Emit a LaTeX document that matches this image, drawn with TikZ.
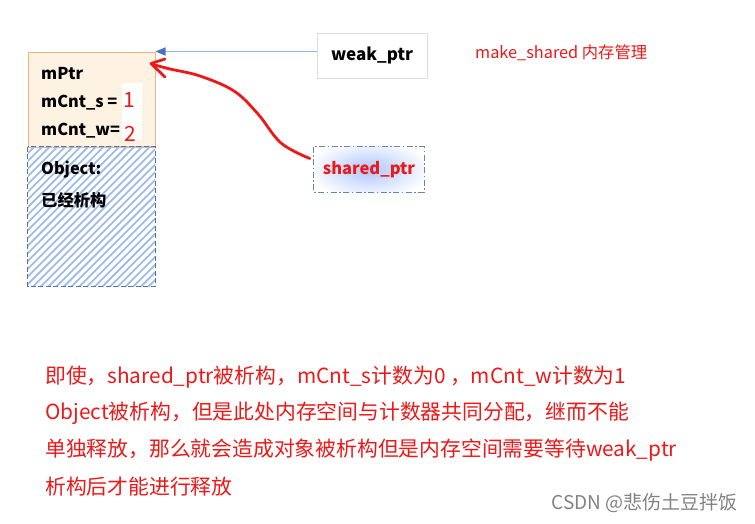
\documentclass[tikz,border=0pt]{standalone}
\usepackage{fontspec}
\setmainfont{Noto Sans CJK SC}
\usetikzlibrary{arrows.meta,calc}
\definecolor{cream}{RGB}{254,243,226}
\definecolor{orangeb}{RGB}{240,180,130}
\definecolor{hatchc}{RGB}{160,188,232}
\definecolor{dashb}{RGB}{80,115,180}
\definecolor{lineblue}{RGB}{150,180,225}
\definecolor{tipblue}{RGB}{68,114,196}
\definecolor{myred}{RGB}{235,25,25}
\definecolor{glow}{RGB}{175,198,252}
\definecolor{wmgray}{RGB}{130,130,130}
\definecolor{lgray}{RGB}{222,222,222}
\definecolor{ddb}{RGB}{110,130,170}
\tikzset{
  boxlbl/.style={anchor=west,inner sep=0pt,font=\fontsize{16.3}{18}\selectfont\bfseries},
  numlbl/.style={inner sep=0pt,text=myred,font=\fontsize{21}{23}\selectfont},
  note/.style={anchor=west,inner sep=0pt,text=myred,font=\fontsize{20.8}{24}\selectfont},
  ptrbox/.style={rectangle,minimum width=110pt,minimum height=45pt,inner sep=0pt},
}
\begin{document}
\begin{tikzpicture}[x=1pt,y=-1pt]
\useasboundingbox[fill=white] (0,0) rectangle (755,523);
% memory block
\node[rectangle,draw=orangeb,fill=cream,line width=1pt,minimum width=127pt,minimum height=95pt,inner sep=0pt] (top) at (91.5,99.5) {};
\node[rectangle,minimum width=127pt,minimum height=139pt,inner sep=0pt] (obj) at (91.5,216.5) {};
\begin{scope}
\clip (obj.south west) rectangle (obj.north east);
\foreach \i in {-160,-152.3,...,140}
  \draw[hatchc,line width=1.8pt] (28+\i,290) -- ++(150,-150);
\end{scope}
\draw[dashb,line width=1.2pt,dash pattern=on 5pt off 2.5pt] (obj.north west) rectangle (obj.south east);
\node[boxlbl] (mptr) at (41,74) {mPtr};
\node[boxlbl] (cnts) at (41,103) {mCnt\_s =};
\node[boxlbl] (cntw) at (41,131) {mCnt\_w=};
\node[fill=white,minimum width=20pt,minimum height=57pt,inner sep=0pt] (wb) at (132,111.5) {};
\node[numlbl] (one) at (129,100) {1};
\node[numlbl] (two) at (130,134) {2};
\node[boxlbl] (objl) at (41,170) {Object:};
\node[boxlbl] (done) at (41,200) {已经析构};
% weak_ptr
\node[ptrbox,draw=lgray,line width=0.8pt,font=\fontsize{17}{19}\selectfont\bfseries] (weak) at (372,55.5) {weak\_ptr};
\draw[lineblue,line width=1.4pt,-{Triangle[length=10pt,width=8pt,color=tipblue]}] (weak.west |- top.north) -- (top.north east);
% shared_ptr
\node[ptrbox] (shared) at (369,169.5) {};
\begin{scope}
\clip (shared.south west) rectangle (shared.north east);
\shade[inner color=glow,outer color=white] (shared.center) ellipse (62 and 30);
\end{scope}
\draw[ddb,line width=1pt,dash pattern=on 6pt off 2.5pt on 1.5pt off 2.5pt] (shared.north west) rectangle (shared.south east);
\node[inner sep=0pt,text=myred,font=\fontsize{16.5}{19}\selectfont\bfseries] (sharedl) at (shared.center) {shared\_ptr};
% red hand-drawn arrow
\coordinate (cs) at ($(shared.west)+(-4,-11)$);
\coordinate (tip) at (151,63.5);
\draw[myred,line width=2.8pt,line cap=round,line join=round]
  plot[smooth,tension=0.6] coordinates {(cs) (281,143) (258,114) (234,91) (200,76) (170,69) (153,64.5)};
\draw[myred,line width=2.8pt,line cap=round,line join=round] (165,59) -- (tip) -- (165,77);
% title
\node[anchor=west,inner sep=0pt,text=myred,font=\fontsize{16.3}{18}\selectfont] (title) at (475,53) {make\_shared 内存管理};
% notes
\node[note] (n1) at (45,377) {即使，shared\_ptr被析构，mCnt\_s计数为0 ，mCnt\_w计数为1};
\node[note] (n2) at (45,413) {Object被析构，但是此处内存空间与计数器共同分配，继而不能};
\node[note] (n3) at (45,450) {单独释放，那么就会造成对象被析构但是内存空间需要等待weak\_ptr};
\node[note] (n4) at (45,487) {析构后才能进行释放};
\node[anchor=east,inner sep=0pt,text=wmgray,font=\fontsize{19}{21}\selectfont] (wm) at (738,503) {CSDN @悲伤土豆拌饭};
\end{tikzpicture}
\end{document}
